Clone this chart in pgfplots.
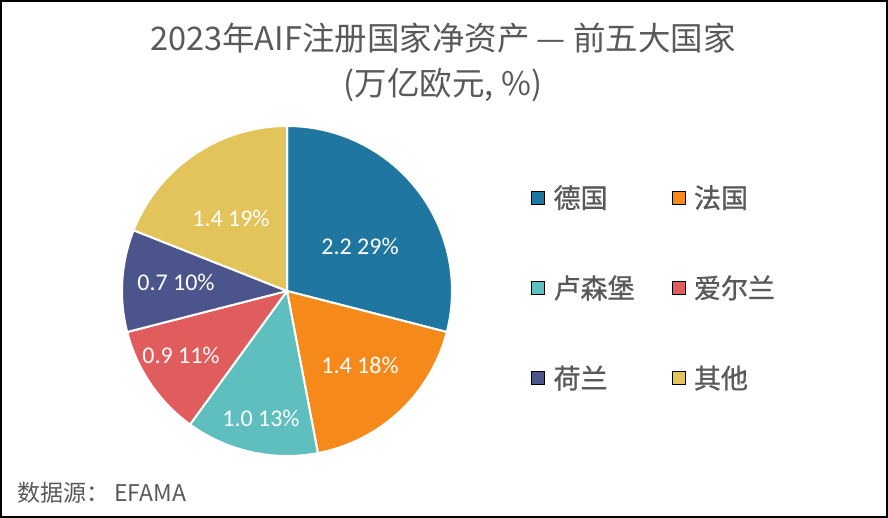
\documentclass[border=0pt]{standalone}
\usepackage{pgfplots}
\pgfplotsset{compat=1.18}
\usepackage{pgfplotstable}
\usepackage{fontspec}
\setmainfont{Noto Sans CJK SC}
\newfontfamily\labfont{Carlito}
\newfontfamily\legfont[FakeBold=1]{Noto Sans CJK SC}
\definecolor{cDE}{HTML}{1F76A0}
\definecolor{cFR}{HTML}{F58A1B}
\definecolor{cLU}{HTML}{5FBFBF}
\definecolor{cIE}{HTML}{E05C5D}
\definecolor{cNL}{HTML}{4B558B}
\definecolor{cOT}{HTML}{E3C45A}
\definecolor{tgray}{HTML}{595959}
\pgfplotstableread{
name value pct col lx ly
德国 2.2 29 cDE 73 45
法国 1.4 18 cFR 73 -74
卢森堡 1.0 13 cLU -26 -127
爱尔兰 0.9 11 cIE -106 -64
荷兰 0.7 10 cNL -111 9
其他 1.4 19 cOT -56 73
}\piedata
\def\cx{287}\def\cy{234}\def\rad{165}
\begin{document}
\begin{tikzpicture}
\xdef\cum{0}
\foreach \i in {0,...,5}{
  \pgfplotstablegetelem{\i}{pct}\of\piedata \let\p\pgfplotsretval
  \pgfmathsetmacro\a{90-3.6*\cum}
  \pgfmathsetmacro\b{90-3.6*(\cum+\p)}
  \expandafter\xdef\csname pieA\i\endcsname{\a}
  \expandafter\xdef\csname pieB\i\endcsname{\b}
  \pgfmathsetmacro\nc{\cum+\p}
  \xdef\cum{\nc}
  \expandafter\xdef\csname pieP\i\endcsname{\p}
  \pgfplotstablegetelem{\i}{value}\of\piedata
  \expandafter\xdef\csname pieV\i\endcsname{\pgfplotsretval}
  \pgfplotstablegetelem{\i}{col}\of\piedata
  \expandafter\xdef\csname pieC\i\endcsname{\pgfplotsretval}
  \pgfplotstablegetelem{\i}{lx}\of\piedata
  \expandafter\xdef\csname pieX\i\endcsname{\pgfplotsretval}
  \pgfplotstablegetelem{\i}{ly}\of\piedata
  \expandafter\xdef\csname pieY\i\endcsname{\pgfplotsretval}
  \pgfplotstablegetelem{\i}{name}\of\piedata
  \expandafter\xdef\csname pieN\i\endcsname{\pgfplotsretval}
}
\begin{axis}[
  x=1pt, y=1pt, xmin=0, xmax=888, ymin=0, ymax=525,
  hide axis, clip=false,
  legend columns=2,
  legend image code/.code={\fill[#1] (0pt,-6.5pt) rectangle (13pt,6.5pt);},
  legend style={draw=none, fill=none, inner sep=0pt,
    at={(axis cs:531,340)}, anchor=north west,
    nodes={inner sep=0pt, text=tgray, font=\legfont\fontsize{27}{30}\selectfont},
    column sep=0pt, row sep=66pt,
    /tikz/every odd column/.append style={column sep=9pt}},
]
\pgfplotsinvokeforeach{0,...,5}{
  \fill[\csname pieC#1\endcsname, draw=white, line width=2pt, line join=round]
    (axis cs:\cx,\cy) -- ++(\csname pieA#1\endcsname:\rad pt)
    arc[start angle=\csname pieA#1\endcsname, end angle=\csname pieB#1\endcsname, radius=\rad pt] -- cycle;
}
\pgfplotsinvokeforeach{0,...,5}{
  \node[text=white, font=\labfont\fontsize{24}{28}\selectfont, inner sep=0pt]
    at (axis cs:{\cx+\csname pieX#1\endcsname},{\cy+\csname pieY#1\endcsname})
    {\csname pieV#1\endcsname\ \csname pieP#1\endcsname\%};
}
\addlegendimage{fill=cDE}\addlegendentry{\makebox[118pt][l]{德国}}
\addlegendimage{fill=cFR}\addlegendentry{\makebox[90pt][l]{法国}}
\addlegendimage{fill=cLU}\addlegendentry{\makebox[118pt][l]{卢森堡}}
\addlegendimage{fill=cIE}\addlegendentry{\makebox[90pt][l]{爱尔兰}}
\addlegendimage{fill=cNL}\addlegendentry{\makebox[118pt][l]{荷兰}}
\addlegendimage{fill=cOT}\addlegendentry{\makebox[90pt][l]{其他}}
\node[text=tgray, font=\fontsize{32.5}{36}\selectfont] at (axis cs:443,487) {2023年AIF注册国家净资产 — 前五大国家};
\node[text=tgray, font=\fontsize{32.5}{36}\selectfont] at (axis cs:443,440) {(万亿欧元, \%)};
\node[text=tgray, font=\fontsize{23}{27}\selectfont, anchor=west, inner sep=0pt] at (axis cs:17,32) {数据源：\ EFAMA};
\draw[black, line width=2.4pt] (axis cs:1.2,8.2) rectangle (axis cs:886.8,523.8);
\end{axis}
\end{tikzpicture}
\end{document}
